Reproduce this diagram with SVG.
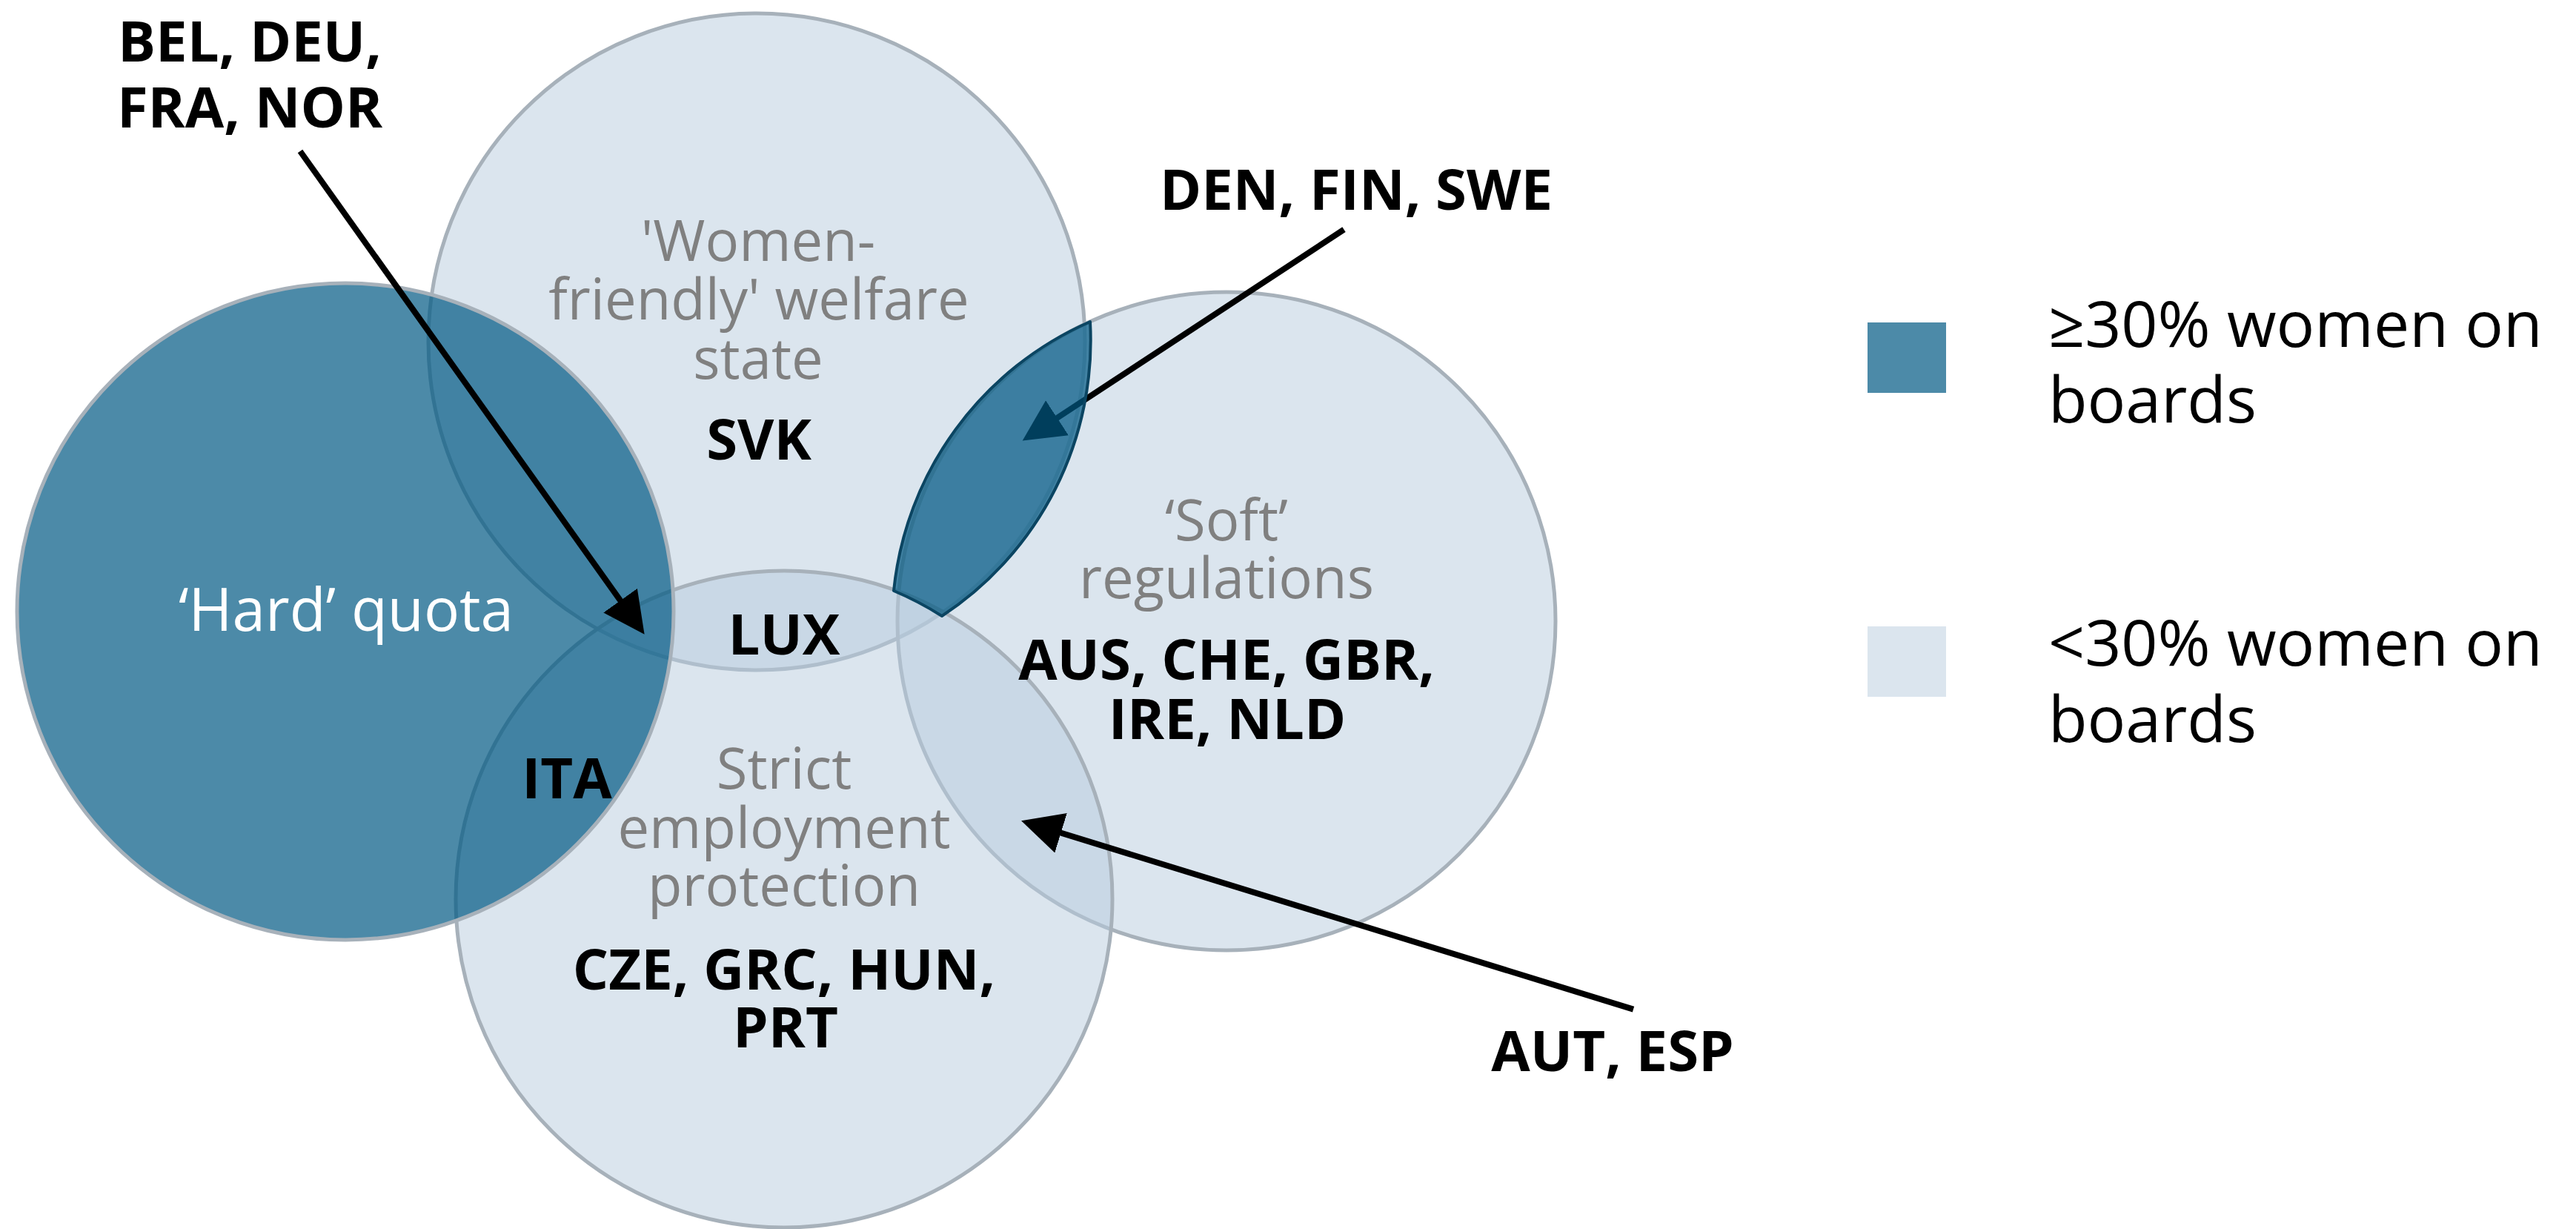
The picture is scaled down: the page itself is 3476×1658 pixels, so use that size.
<svg xmlns="http://www.w3.org/2000/svg" width="3476" height="1658" viewBox="0 0 3476 1658">
  <defs>
    <style>
      .set{stroke:#a7b1ba;stroke-width:5}
      .light{fill:#b7cbdd;fill-opacity:0.5}
      .dark{fill:#005883;fill-opacity:0.7}
      .lens{fill:#005883;fill-opacity:0.7;stroke:#0b4562;stroke-width:4;stroke-linejoin:round}
      .arrow{stroke:#000;stroke-width:8;fill:none;marker-end:url(#head)}
      text{font-family:"Open Sans","Noto Sans","DejaVu Sans",sans-serif}
      .code{font-weight:700;font-size:76px;fill:#000;text-anchor:middle}
      .cat{font-size:76px;fill:#808080;text-anchor:middle}
      .cat.inv{fill:#fff;font-size:80px}
      .leg{font-size:86px;fill:#000}
    </style>
    <marker id="head" markerUnits="userSpaceOnUse" markerWidth="58" markerHeight="60" viewBox="0 -30 58 60" refX="25" refY="0" orient="auto">
      <path d="M0,-28 L56,0 L0,28 Z" fill="#000"/>
    </marker>
  </defs>
  <rect width="3476" height="1658" fill="#fff"/>

  <!-- policy sets -->
  <g id="set-welfare">
    <circle class="set light" cx="1021" cy="461" r="443"/>
  </g>
  <g id="set-soft">
    <circle class="set light" cx="1655" cy="838" r="444"/>
  </g>
  <g id="set-strict">
    <circle class="set light" cx="1058" cy="1213" r="443"/>
  </g>
  <g id="set-hard">
    <circle class="set dark" cx="466" cy="825" r="443"/>
  </g>

  <!-- set titles -->
  <g id="title-welfare">
    <text class="cat" x="1023" y="352">'Women-</text>
    <text class="cat" x="1024" y="431">friendly' welfare</text>
    <text class="cat" x="1023" y="511">state</text>
  </g>
  <g id="title-soft">
    <text class="cat" x="1655" y="729">‘Soft’</text>
    <text class="cat" x="1655" y="807">regulations</text>
  </g>
  <g id="title-strict">
    <text class="cat" x="1058" y="1064">Strict</text>
    <text class="cat" x="1058" y="1144">employment</text>
    <text class="cat" x="1058" y="1222">protection</text>
  </g>
  <g id="title-hard">
    <text class="cat inv" x="467" y="851">‘Hard’ quota</text>
  </g>

  <!-- country groups -->
  <g id="grp-svk"><text class="code" x="1024" y="620">SVK</text></g>
  <g id="grp-lux"><text class="code" x="1058" y="883">LUX</text></g>
  <g id="grp-ita"><text class="code" x="765" y="1077">ITA</text></g>
  <g id="grp-soft">
    <text class="code" x="1655" y="917">AUS, CHE, GBR,</text>
    <text class="code" x="1656" y="997">IRE, NLD</text>
  </g>
  <g id="grp-strict">
    <text class="code" x="1058" y="1335">CZE, GRC, HUN,</text>
    <text class="code" x="1060" y="1413">PRT</text>
  </g>
  <g id="grp-hard-welfare">
    <text class="code" x="337" y="83">BEL, DEU,</text>
    <text class="code" x="337" y="172">FRA, NOR</text>
  </g>
  <g id="grp-welfare-soft"><text class="code" x="1830" y="283">DEN, FIN, SWE</text></g>
  <g id="grp-soft-strict"><text class="code" x="2176" y="1445">AUT, ESP</text></g>

  <!-- pointers -->
  <g id="connectors">
    <line class="arrow" x1="405" y1="204" x2="851.6" y2="830.5"/>
    <line class="arrow" x1="1813.5" y1="309.7" x2="1405.6" y2="577.5"/>
    <line class="arrow" x1="2204" y1="1361.6" x2="1407.7" y2="1116.3"/>
  </g>

  <!-- welfare and soft overlap, outside strict protection -->
  <g id="zone-welfare-soft">
    <path class="lens" d="M1471,434 A445,445 0 0 0 1206,797 A443,443 0 0 1 1271,831 A445,445 0 0 0 1471,434 Z"/>
  </g>

  <!-- legend -->
  <g id="legend">
    <rect x="2520" y="435" width="106" height="95" class="dark"/>
    <text class="leg" x="2764" y="468">≥30% women on</text>
    <text class="leg" x="2764" y="570">boards</text>
    <rect x="2520" y="845" width="106" height="95" class="light"/>
    <text class="leg" x="2764" y="898">&lt;30% women on</text>
    <text class="leg" x="2764" y="1001">boards</text>
  </g>
</svg>
